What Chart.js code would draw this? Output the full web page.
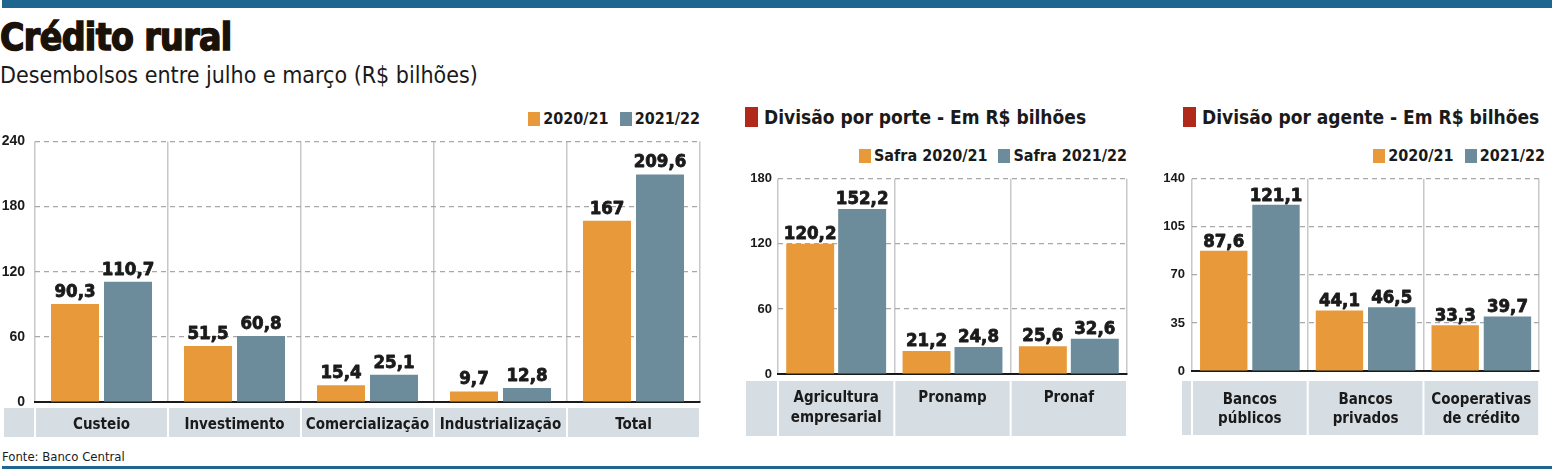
<!DOCTYPE html>
<html><head><meta charset="utf-8">
<script src="https://cdn.jsdelivr.net/npm/chart.js@4.4.1/dist/chart.umd.min.js"></script>
<style>
html,body{margin:0;padding:0;background:#fff;width:1552px;height:472px;overflow:hidden;}
body{position:relative;font-family:"DejaVu Sans Condensed","Liberation Sans Narrow","DejaVu Sans",sans-serif;color:#1a1a1a;}
.abs{position:absolute;white-space:nowrap;}
#topbar{left:2px;top:0;width:1550px;height:8px;background:#1c6690;}
#botbar{left:2px;top:466px;width:1550px;height:3px;background:#1c6690;}
#title{left:0;top:17px;font-size:37px;font-weight:bold;line-height:42px;letter-spacing:-0.6px;-webkit-text-stroke:1.4px #1a1208;color:#1a1208;}
#subtitle{left:0;top:60px;font-size:23px;line-height:30px;font-weight:normal;}
#fonte{left:2px;top:449px;font-size:13px;line-height:16px;}
.sec{font-size:19px;font-weight:bold;line-height:24px;display:flex;align-items:center;}
.sec i{display:inline-block;width:13px;height:20px;background:#b0291a;margin-right:6px;}
.legend{display:flex;align-items:center;font-size:16px;font-weight:bold;line-height:18px;}
.legend span{display:flex;align-items:center;margin-left:11px;}
.legend b{display:inline-block;width:12px;height:14px;margin-right:3px;}
canvas{position:absolute;}
</style></head>
<body>
<div id="topbar" class="abs"></div>
<div id="title" class="abs">Crédito rural</div>
<div id="subtitle" class="abs">Desembolsos entre julho e março (R$ bilhões)</div>

<div class="abs legend" style="right:852px;top:110px">
  <span><b style="background:#e8993a"></b>2020/21</span>
  <span><b style="background:#6d8c9b"></b>2021/22</span>
</div>

<div class="abs sec" style="left:745px;top:105px"><i></i>Divisão por porte - Em R$ bilhões</div>
<div class="abs legend" style="right:425px;top:147px">
  <span><b style="background:#e8993a"></b>Safra 2020/21</span>
  <span><b style="background:#6d8c9b"></b>Safra 2021/22</span>
</div>

<div class="abs sec" style="left:1183px;top:105px"><i></i>Divisão por agente - Em R$ bilhões</div>
<div class="abs legend" style="right:7px;top:147px">
  <span><b style="background:#e8993a"></b>2020/21</span>
  <span><b style="background:#6d8c9b"></b>2021/22</span>
</div>

<canvas id="c1" width="712" height="322" style="left:0;top:123px"></canvas>
<canvas id="c2" width="393" height="275" style="left:742px;top:165px"></canvas>
<canvas id="c3" width="402" height="274" style="left:1150px;top:164px"></canvas>

<div id="fonte" class="abs">Fonte: Banco Central</div>
<div id="botbar" class="abs"></div>

<script>
// ---- Data ----
const seriesNames = ['2020/21', '2021/22'];
const seriesNamesPorte = ['Safra 2020/21', 'Safra 2021/22'];

const categoriasFinalidade = ['Custeio', 'Investimento', 'Comercialização', 'Industrialização', 'Total'];
const finalidade2021 = [90.3, 51.5, 15.4, 9.7, 167];
const finalidade2122 = [110.7, 60.8, 25.1, 12.8, 209.6];
const ticksFinalidade = [0, 60, 120, 180, 240];

const categoriasPorte = [['Agricultura', 'empresarial'], 'Pronamp', 'Pronaf'];
const porte2021 = [120.2, 21.2, 25.6];
const porte2122 = [152.2, 24.8, 32.6];
const ticksPorte = [0, 60, 120, 180];

const categoriasAgente = [['Bancos', 'públicos'], ['Bancos', 'privados'], ['Cooperativas', 'de crédito']];
const agente2021 = [87.6, 44.1, 33.3];
const agente2122 = [121.1, 46.5, 39.7];
const ticksAgente = [0, 35, 70, 105, 140];

// ---- Style ----
const ORANGE = '#e8993a';
const BLUE = '#6d8c9b';
const TEXT = '#1a1a1a';
const COND = '"DejaVu Sans Condensed", "Liberation Sans Narrow", "DejaVu Sans", sans-serif';

const fmt = v => String(v).replace('.', ',');

const bandPlugin = {
  id: 'band',
  beforeDraw(chart, args, opts) {
    const { ctx, chartArea } = chart;
    const xs = chart.scales.x;
    const n = chart.data.labels.length;
    const w = (chartArea.right - chartArea.left) / n;
    const top = chartArea.bottom + opts.offset;
    ctx.save();
    ctx.fillStyle = '#d6dee4';
    ctx.fillRect(chartArea.left + opts.cellLeft, top, -opts.cellLeft - 1, opts.height);
    for (let i = 0; i < n; i++) {
      const cx = xs.getPixelForValue(i);
      ctx.fillRect(cx - w / 2 + 1, top, w - 2, opts.height);
    }
    ctx.restore();
  }
};

const labelPlugin = {
  id: 'valueLabels',
  afterDatasetsDraw(chart, args, opts) {
    const ctx = chart.ctx;
    ctx.save();
    ctx.font = 'bold 18.5px ' + COND;
    ctx.fillStyle = TEXT;
    ctx.strokeStyle = TEXT;
    ctx.lineWidth = 0.8;
    ctx.lineJoin = 'round';
    ctx.textAlign = 'center';
    ctx.textBaseline = 'alphabetic';
    chart.data.datasets.forEach((ds, di) => {
      chart.getDatasetMeta(di).data.forEach((el, i) => {
        const t = fmt(ds.data[i]);
        ctx.strokeText(t, el.x, el.y - opts.gap);
        ctx.fillText(t, el.x, el.y - opts.gap);
      });
    });
    ctx.restore();
  }
};

function makeChart(id, cfg) {
  return new Chart(document.getElementById(id), {
    type: 'bar',
    data: {
      labels: cfg.labels,
      datasets: [
        { label: cfg.names[0], data: cfg.a, backgroundColor: ORANGE, categoryPercentage: cfg.cat, barPercentage: cfg.bar },
        { label: cfg.names[1], data: cfg.b, backgroundColor: BLUE, categoryPercentage: cfg.cat, barPercentage: cfg.bar }
      ]
    },
    options: {
      responsive: false,
      animation: false,
      devicePixelRatio: 1,
      layout: { padding: cfg.padding },
      plugins: {
        legend: { display: false },
        tooltip: { enabled: false },
        band: cfg.band,
        valueLabels: { gap: cfg.gap }
      },
      scales: {
        x: {
          grid: { offset: true, color: '#c8c8c8', lineWidth: 1.5, drawTicks: false },
          border: { display: true, color: TEXT, width: 2 },
          ticks: {
            font: { family: COND, weight: 'bold', size: 15, lineHeight: cfg.lh },
            color: TEXT, padding: cfg.xpad, maxRotation: 0, autoSkip: false
          },
          afterFit: s => { s.height = cfg.xh; }
        },
        y: {
          min: 0,
          max: cfg.ticks[cfg.ticks.length - 1],
          afterBuildTicks: s => { s.ticks = cfg.ticks.map(v => ({ value: v })); },
          grid: {
            color: c => (c.tick && c.tick.value === 0) ? 'rgba(0,0,0,0)' : '#a8a8a8',
            lineWidth: 1.2, drawTicks: false
          },
          border: { display: false, dash: [5, 4] },
          ticks: {
            font: { family: '"Liberation Sans", Arial, sans-serif', weight: 'bold', size: cfg.ysize },
            color: TEXT, padding: cfg.ypad, callback: v => v
          },
          afterFit: s => { s.width = cfg.yw; }
        }
      }
    },
    plugins: [bandPlugin, labelPlugin]
  });
}

makeChart('c1', {
  labels: categoriasFinalidade, a: finalidade2021, b: finalidade2122, names: seriesNames,
  ticks: ticksFinalidade, cat: 0.797, bar: 0.906,
  padding: { top: 12, right: 12, bottom: 0, left: 0 },
  yw: 35, xh: 43, xpad: 14, lh: 1.2, ysize: 14, ypad: 10, gap: 7,
  band: { offset: 6, height: 29, cellLeft: -31 }
});

makeChart('c2', {
  labels: categoriasPorte, a: porte2021, b: porte2122, names: seriesNamesPorte,
  ticks: ticksPorte, cat: 0.893, bar: 0.923,
  padding: { top: 12, right: 8, bottom: 0, left: 0 },
  yw: 36, xh: 66, xpad: 14, lh: 1.33, ysize: 13, ypad: 6, gap: 5,
  band: { offset: 7, height: 55, cellLeft: -32 }
});

makeChart('c3', {
  labels: categoriasAgente, a: agente2021, b: agente2122, names: seriesNames,
  ticks: ticksAgente, cat: 0.903, bar: 0.907,
  padding: { top: 12, right: 4, bottom: 0, left: 0 },
  yw: 42, xh: 67, xpad: 20, lh: 1.25, ysize: 13, ypad: 7, gap: 4,
  band: { offset: 10, height: 54, cellLeft: -10 }
});
</script>
</body></html>
